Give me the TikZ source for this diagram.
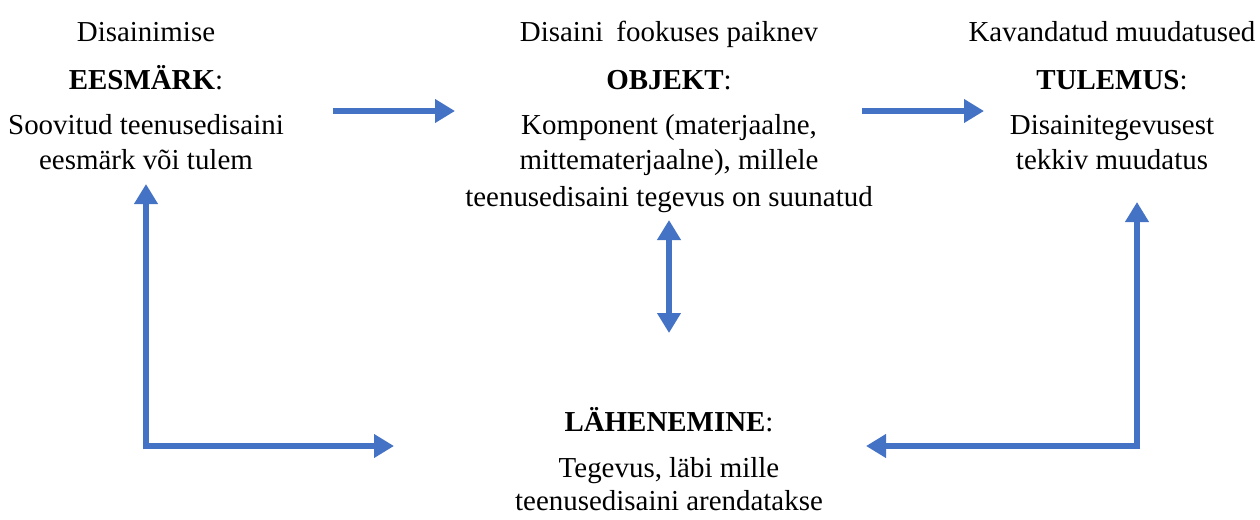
\documentclass[tikz,border=0pt]{standalone}
\usepackage{fontspec}
\setmainfont{Liberation Serif}
\usetikzlibrary{arrows.meta}
\definecolor{arrowblue}{HTML}{4472C4}
\tikzset{
  txt/.style={anchor=base, inner sep=0pt, font=\fontsize{21.7}{26}\selectfont},
  blockarrow/.style={draw=arrowblue, line width=4.9pt, line join=miter,
    -{Triangle[length=15pt,width=17pt]}},
  dblarrow/.style={draw=arrowblue, line width=4.9pt,
    {Triangle[length=15pt,width=17pt]}-{Triangle[length=15pt,width=17pt]}}
}
\begin{document}
\begin{tikzpicture}[x=0.75pt,y=-0.75pt]
\useasboundingbox (0,0) rectangle (1260,519);
% left block
\node[txt] (l1) at (146,41) {Disainimise};
\node[txt] (l2) at (146,89) {\textbf{EESMÄRK}:};
\node[txt] (l3) at (146,134) {Soovitud teenusedisaini};
\node[txt] (l4) at (146,169) {eesmärk või tulem};
% middle block
\node[txt] (m1) at (669,41) {Disaini\hspace{0.2em} fookuses paiknev};
\node[txt] (m2) at (669,89) {\textbf{OBJEKT}:};
\node[txt] (m3) at (669,134) {Komponent (materjaalne,};
\node[txt] (m4) at (669,169) {mittematerjaalne), millele};
\node[txt] (m5) at (669,206) {teenusedisaini tegevus on suunatud};
% right block
\node[txt] (r1) at (1112,41) {Kavandatud muudatused};
\node[txt] (r2) at (1112,89) {\textbf{TULEMUS}:};
\node[txt] (r3) at (1112,134) {Disainitegevusest};
\node[txt] (r4) at (1112,169) {tekkiv muudatus};
% bottom block
\node[txt] (b1) at (669,431) {\textbf{LÄHENEMINE}:};
\node[txt] (b2) at (669,477) {Tegevus, läbi mille};
\node[txt] (b3) at (669,510) {teenusedisaini arendatakse};
% arrow coordinates
\coordinate (a1s) at (333,111);
\coordinate (a1e) at (455,111);
\coordinate (a2s) at (862,111);
\coordinate (a2e) at (984,111);
\coordinate (lc) at (146,446);
\coordinate (lt) at (146,184);
\coordinate (lr) at (394,446);
\coordinate (mt) at (669,220);
\coordinate (mb) at (669,333);
\coordinate (rc) at (1137,446);
\coordinate (rt) at (1137,202);
\coordinate (rl) at (866,446);
% arrows
\draw[blockarrow] (a1s) -- (a1e);
\draw[blockarrow] (a2s) -- (a2e);
\draw[dblarrow] (mt) -- (mb);
\draw[blockarrow] ([yshift=-2.45pt]lc) -- (lt);
\draw[blockarrow] ([xshift=-2.45pt]lc) -- (lr);
\draw[blockarrow] ([yshift=-2.45pt]rc) -- (rt);
\draw[blockarrow] ([xshift=2.45pt]rc) -- (rl);
\end{tikzpicture}
\end{document}
